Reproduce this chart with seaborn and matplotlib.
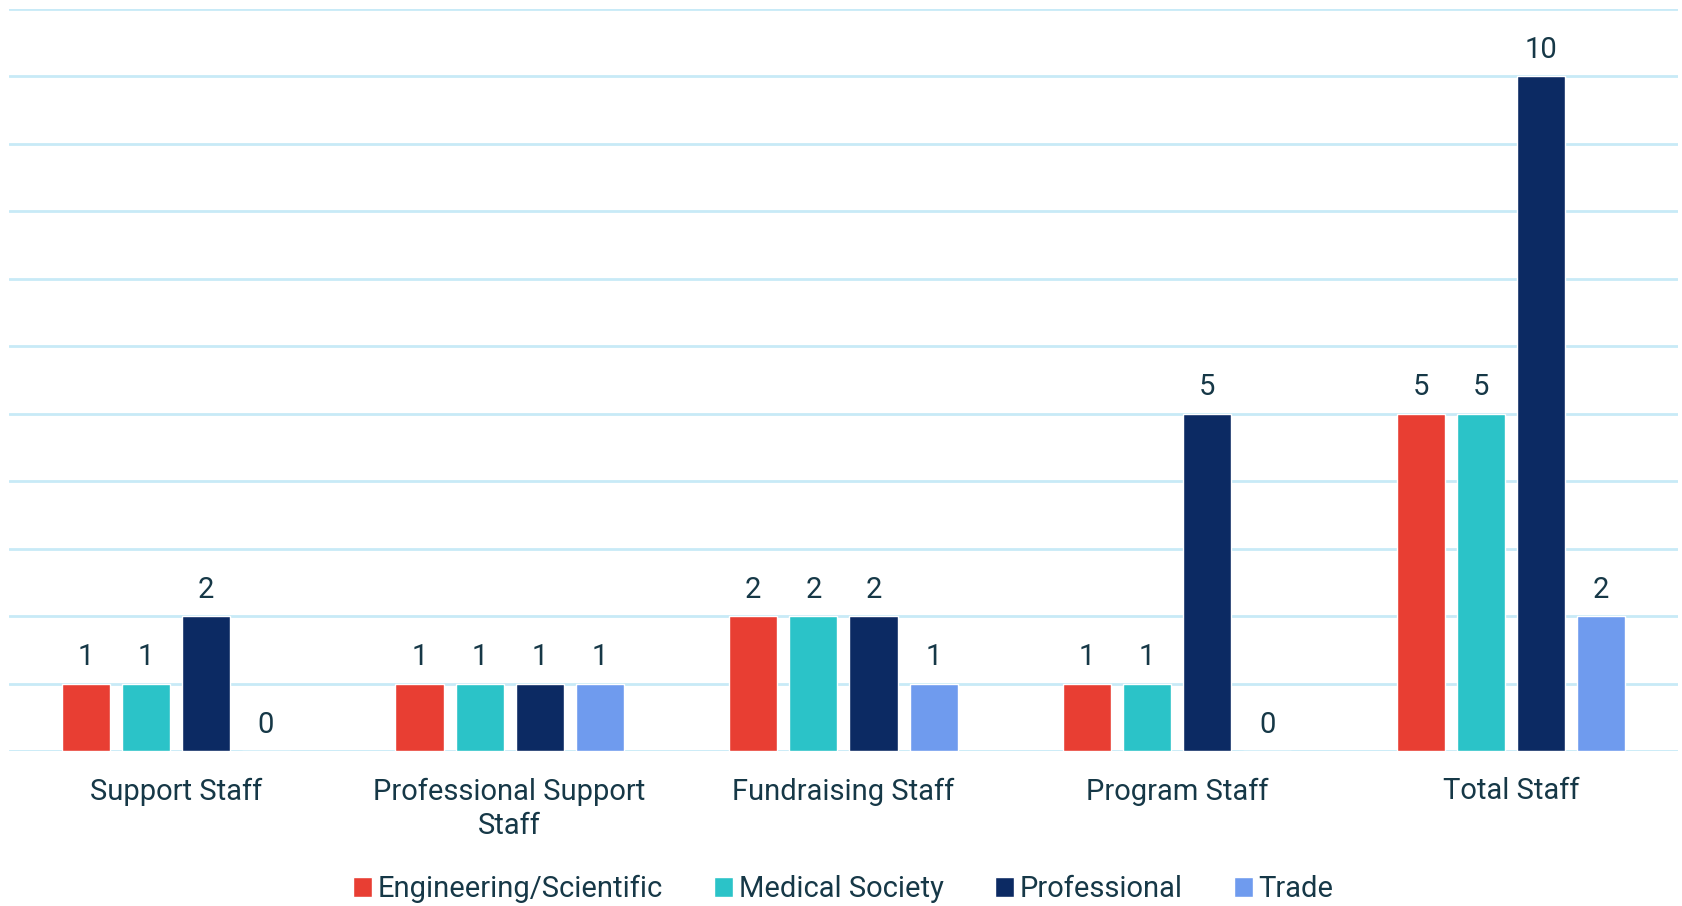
import numpy as np
import pandas as pd
import seaborn as sns
import matplotlib.pyplot as plt

categories = ["Support Staff", "Professional Support\nStaff", "Fundraising Staff", "Program Staff", "Total Staff"]
series = ["Engineering/Scientific", "Medical Society", "Professional", "Trade"]
engineering = [1, 1, 2, 1, 5]
medical = [1, 1, 2, 1, 5]
professional = [2, 1, 2, 5, 10]
trade = [0, 1, 1, 0, 2]
colors = ["#E83E33", "#2BC3C8", "#0C2A63", "#6F9BEE"]

rows = []
for name, vals in zip(series, [engineering, medical, professional, trade]):
    for cat, v in zip(categories, vals):
        rows.append({"Category": cat, "Group": name, "Count": v})
df = pd.DataFrame(rows)

sns.set_theme(style="white")
plt.rcParams['font.family'] = ['Roboto', 'DejaVu Sans']
text_color = "#163847"

fig = plt.figure(figsize=(16.83, 9.06), dpi=100)
ax = fig.add_axes([0.0053, 0.171, 0.9917, 0.8195])

sns.barplot(data=df, x="Category", y="Count", hue="Group", order=categories,
            hue_order=series, palette=colors, width=0.72, gap=0.2,
            saturation=1, ax=ax, legend=True)

for cont in ax.containers:
    ax.bar_label(cont, labels=[str(int(b.get_height())) for b in cont],
                 padding=9, fontsize=21, color=text_color)

ax.set_ylim(0, 11)
ax.set_yticks(np.arange(0, 12, 1))
ax.set_yticklabels([])
ax.tick_params(axis="y", length=0)
ax.tick_params(axis="x", length=0, pad=19, labelsize=21, labelcolor=text_color)
for lbl in ax.get_xticklabels():
    lbl.set_linespacing(1.3)
ax.yaxis.grid(True, color="#C8EAF7", linewidth=2)
ax.set_axisbelow(True)
for s in ax.spines.values():
    s.set_visible(False)
ax.set_xlabel("")
ax.set_ylabel("")

handles, labels = ax.get_legend_handles_labels()
ax.legend(handles, labels, loc="lower center", bbox_to_anchor=(0.5, -0.24),
          ncol=4, frameon=False, fontsize=21, handlelength=0.65, handleheight=0.65,
          handletextpad=0.2, columnspacing=1.75, labelcolor=text_color)

fig.savefig("out.png", dpi=100)
